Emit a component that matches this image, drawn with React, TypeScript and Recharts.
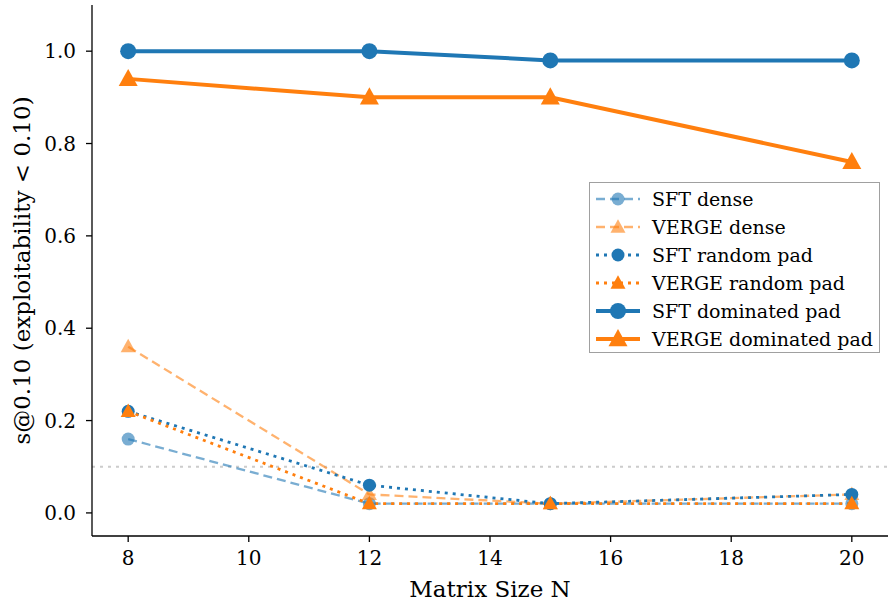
import { LineChart, Line, XAxis, YAxis, ReferenceLine } from 'recharts';

const sizes = [8, 12, 15, 20];
const sftDense = [0.16, 0.02, 0.02, 0.02];
const vergeDense = [0.36, 0.04, 0.02, 0.04];
const sftRandom = [0.22, 0.06, 0.02, 0.04];
const vergeRandom = [0.22, 0.02, 0.02, 0.02];
const sftDominated = [1.0, 1.0, 0.98, 0.98];
const vergeDominated = [0.94, 0.9, 0.9, 0.76];
const xTicks = [8, 10, 12, 14, 16, 18, 20];
const yTicks = [0, 0.2, 0.4, 0.6, 0.8, 1.0];

const BLUE = '#1f77b4';
const ORANGE = '#ff7f0e';
const FONT = '"DejaVu Serif", serif';

const data = sizes.map((n, i) => ({
  n,
  sftDense: sftDense[i],
  vergeDense: vergeDense[i],
  sftRandom: sftRandom[i],
  vergeRandom: vergeRandom[i],
  sftDominated: sftDominated[i],
  vergeDominated: vergeDominated[i],
}));

type Marker = 'circle' | 'triangle';

interface SeriesDef {
  key: string;
  name: string;
  color: string;
  opacity: number;
  width: number;
  dash?: string;
  marker: Marker;
  size: number;
}

const series: SeriesDef[] = [
  { key: 'sftDense', name: 'SFT dense', color: BLUE, opacity: 0.6, width: 2.3, dash: '9 5', marker: 'circle', size: 6.5 },
  { key: 'vergeDense', name: 'VERGE dense', color: ORANGE, opacity: 0.6, width: 2.3, dash: '9 5', marker: 'triangle', size: 7.5 },
  { key: 'sftRandom', name: 'SFT random pad', color: BLUE, opacity: 1, width: 2.8, dash: '3 5', marker: 'circle', size: 6.5 },
  { key: 'vergeRandom', name: 'VERGE random pad', color: ORANGE, opacity: 1, width: 2.8, dash: '3 5', marker: 'triangle', size: 7.5 },
  { key: 'sftDominated', name: 'SFT dominated pad', color: BLUE, opacity: 1, width: 4, marker: 'circle', size: 8 },
  { key: 'vergeDominated', name: 'VERGE dominated pad', color: ORANGE, opacity: 1, width: 4, marker: 'triangle', size: 9.5 },
];

function MarkerShape({ cx, cy, s }: { cx: number; cy: number; s: SeriesDef }) {
  if (s.marker === 'circle') {
    return <circle cx={cx} cy={cy} r={s.size} fill={s.color} fillOpacity={s.opacity} />;
  }
  const r = s.size;
  const pts = `${cx},${cy - r * 1.05} ${cx - r},${cy + r * 0.75} ${cx + r},${cy + r * 0.75}`;
  return <polygon points={pts} fill={s.color} fillOpacity={s.opacity} />;
}

function LegendBox() {
  return (
    <div
      style={{
        position: 'absolute',
        left: 589,
        top: 182,
        width: 291,
        height: 171,
        boxSizing: 'border-box',
        border: '1.5px solid #a0a0a0',
        background: 'rgba(255,255,255,0.85)',
        padding: '2px 0 0 4px',
        fontFamily: FONT,
        fontSize: 19,
        color: '#000',
      }}
    >
      {series.map((s) => (
        <div key={s.key} style={{ display: 'flex', alignItems: 'center', height: 28 }}>
          <svg width={48} height={22} style={{ marginRight: 10 }}>
            <line
              x1={2}
              x2={46}
              y1={11}
              y2={11}
              stroke={s.color}
              strokeOpacity={s.opacity}
              strokeWidth={s.width}
              strokeDasharray={s.dash}
            />
            <MarkerShape cx={24} cy={11} s={s} />
          </svg>
          <span style={{ whiteSpace: 'nowrap' }}>{s.name}</span>
        </div>
      ))}
    </div>
  );
}

export default function App() {
  return (
    <div style={{ position: 'absolute', left: 0, top: 0, width: 889, height: 603, background: '#fff' }}>
      <LineChart width={889} height={603} data={data} margin={{ top: 5, right: 1, left: 0, bottom: 0 }}>
        <XAxis
          type="number"
          dataKey="n"
          domain={[7.4, 20.6]}
          ticks={xTicks}
          allowDataOverflow
          height={67}
          stroke="#000"
          tickLine={{ stroke: '#000', strokeWidth: 1.3 }}
          axisLine={{ stroke: '#000', strokeWidth: 1.3 }}
          tickSize={6}
          tickMargin={9}
          tick={{ fill: '#000', fontSize: 20, fontFamily: FONT }}
          label={{ value: 'Matrix Size N', position: 'insideBottom', offset: 6, fill: '#000', fontSize: 23, fontFamily: FONT }}
        />
        <YAxis
          type="number"
          domain={[-0.05, 1.1]}
          ticks={yTicks}
          allowDataOverflow
          width={92}
          stroke="#000"
          tickLine={{ stroke: '#000', strokeWidth: 1.3 }}
          axisLine={{ stroke: '#000', strokeWidth: 1.3 }}
          tickSize={6}
          tickMargin={10}
          tickFormatter={(v: number) => v.toFixed(1)}
          tick={{ fill: '#000', fontSize: 20, fontFamily: FONT }}
          label={{
            value: 's@0.10 (exploitability < 0.10)',
            angle: -90,
            position: 'insideLeft',
            offset: 22,
            style: { textAnchor: 'middle' },
            fill: '#000',
            fontSize: 23,
            fontFamily: FONT,
          }}
        />
        <ReferenceLine y={0.1} stroke="#cccccc" strokeWidth={2} strokeDasharray="3 5" />
        {series.map((s) => (
          <Line
            key={s.key}
            dataKey={s.key}
            name={s.name}
            stroke={s.color}
            strokeOpacity={s.opacity}
            strokeWidth={s.width}
            strokeDasharray={s.dash}
            isAnimationActive={false}
            activeDot={false}
            dot={(p: any) => <MarkerShape key={`${s.key}-${p.index}`} cx={p.cx} cy={p.cy} s={s} />}
          />
        ))}
      </LineChart>
      <LegendBox />
    </div>
  );
}
